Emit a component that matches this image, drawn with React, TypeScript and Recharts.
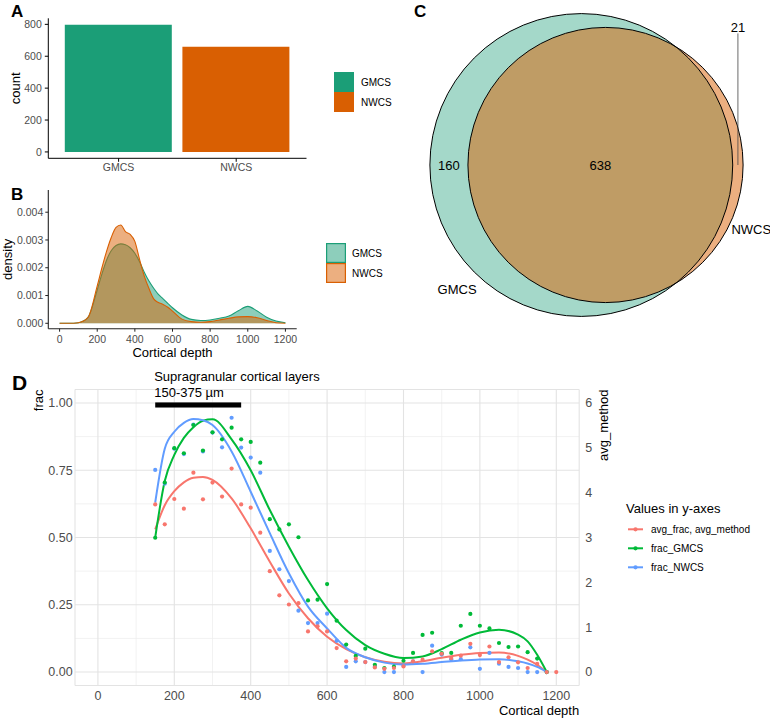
import React from "react";
import {
  BarChart,
  Bar,
  Cell,
  AreaChart,
  Area,
  ScatterChart,
  Scatter,
  ComposedChart,
  Line,
  XAxis,
  YAxis,
  ZAxis,
  CartesianGrid,
  ReferenceArea,
  Label,
} from "recharts";

const FONT = '"Liberation Sans", Arial, Helvetica, sans-serif';
const TICK_GREY = "#4d4d4d";

// ---------- Panel A: cells found by each method ----------
const methods = ["GMCS", "NWCS"];
const methodCounts = [798, 659];
const methodColors = ["#1B9E77", "#D95F02"];
const countTicks = [0, 200, 400, 600, 800];

// ---------- Panel B: density over cortical depth ----------
const densityDepths = [
  0, 50, 100, 150, 200, 225, 250, 275, 300, 325, 350, 375, 400, 425, 450, 475,
  500, 525, 550, 575, 600, 650, 700, 750, 800, 850, 900, 950, 1000, 1050, 1100,
  1150, 1200,
];
const densityGMCS = [
  0, 0, 0.00002, 0.0002, 0.0012, 0.00178, 0.00228, 0.00262, 0.0028, 0.00286,
  0.00283, 0.00272, 0.00252, 0.00222, 0.00184, 0.00152, 0.00126, 0.00104,
  0.00088, 0.00072, 0.00056, 0.0003, 0.00014, 0.0001, 0.00012, 0.00018,
  0.00026, 0.00045, 0.00061, 0.00044, 0.00022, 0.00008, 0.00002,
];
const densityNWCS = [
  0, 0, 0.00002, 0.0002, 0.00135, 0.002, 0.0026, 0.0031, 0.00345, 0.00354,
  0.0033, 0.0032, 0.00295, 0.0023, 0.0017, 0.00125, 0.00088, 0.00075, 0.00068,
  0.00058, 0.00044, 0.00015, 0.00006, 0.00004, 0.00006, 0.00012, 0.00018,
  0.00023, 0.00024, 0.0002, 0.0001, 0.00002, 0,
];
const depthTicks = [0, 200, 400, 600, 800, 1000, 1200];
const densityTicks = [0, 0.001, 0.002, 0.003, 0.004];

// ---------- Panel C: overlap of the two methods ----------
const onlyGMCS = 160;
const sharedCount = 638;
const onlyNWCS = 21;

// ---------- Panel D: fractions along cortical depth ----------
const depths = [
  150, 175, 200, 225, 250, 275, 300, 325, 350, 375, 400, 425, 450, 475, 500,
  525, 550, 575, 600, 625, 650, 675, 700, 725, 750, 775, 800, 825, 850, 875,
  900, 925, 950, 975, 1000, 1025, 1050, 1075, 1100, 1125, 1150, 1175, 1200,
];
const avgFrac = [
  0.623, 0.549, 0.643, 0.607, 0.741, 0.642, 0.704, 0.652, 0.756, 0.623, 0.611,
  0.518, 0.375, 0.285, 0.251, 0.256, 0.151, 0.17, 0.151, 0.089, 0.04, 0.05,
  0.037, 0.017, 0.012, 0.015, 0.021, 0.04, 0.046, 0.077, 0.068, 0.052, 0.061,
  0.105, 0.063, 0.095, 0.037, 0.055, 0.036, 0.015, 0.03, 0, 0,
];
const fracGMCS = [
  0.499, 0.704, 0.832, 0.813, 0.918, 0.823, 0.891, 0.865, 0.908, 0.865, 0.855,
  0.778, 0.568, 0.53, 0.549, 0.501, 0.266, 0.269, 0.327, 0.191, 0.102, 0.06,
  0.087, 0.027, 0.015, 0.02, 0.042, 0.071, 0.138, 0.146, 0.07, 0.071, 0.172,
  0.216, 0.172, 0.162, 0.108, 0.093, 0.095, 0.074, 0.05, 0, null,
];
const fracNWCS = [
  0.751, 0.7, 0.83, 0.81, 0.92, 0.82, 0.89, 0.835, 0.945, 0.834, 0.797, 0.741,
  0.45, 0.382, 0.338, 0.228, 0.182, 0.182, 0.217, 0.116, 0.019, 0.04, 0.037,
  0.02, 0, 0, 0.024, 0.04, 0, 0.098, 0.065, 0.048, 0.048, 0.092, 0.012, 0.071,
  0.031, 0.019, 0.015, 0, 0, 0, null,
];
const smoothDepths = [
  150, 175, 200, 225, 250, 275, 300, 350, 400, 450, 500, 550, 600, 650, 700,
  750, 800, 850, 900, 950, 1000, 1050, 1100, 1125, 1150, 1175,
];
const smoothAvg = [
  0.53, 0.62, 0.672, 0.705, 0.722, 0.725, 0.714, 0.645, 0.534, 0.41, 0.292,
  0.2, 0.131, 0.085, 0.055, 0.038, 0.032, 0.04, 0.053, 0.064, 0.071, 0.073,
  0.06, 0.046, 0.027, 0,
];
const smoothGMCS = [
  0.5, 0.71, 0.807, 0.87, 0.91, 0.934, 0.939, 0.865, 0.75, 0.602, 0.466, 0.342,
  0.237, 0.156, 0.1, 0.068, 0.052, 0.058, 0.085, 0.12, 0.147, 0.157, 0.139,
  0.114, 0.064, 0,
];
const smoothNWCS = [
  0.63, 0.83, 0.893, 0.926, 0.94, 0.936, 0.918, 0.82, 0.67, 0.516, 0.367,
  0.243, 0.162, 0.09, 0.055, 0.035, 0.028, 0.031, 0.037, 0.043, 0.047, 0.048,
  0.04, 0.032, 0.019, 0,
];
const fracTicks = [0, 0.25, 0.5, 0.75, 1];
const fracMinor = [0.125, 0.375, 0.625, 0.875];
const depthMinor = [100, 300, 500, 700, 900, 1100];
const methodTicks = [0, 1, 2, 3, 4, 5, 6];
const seriesKeys = ["avg", "gmcs", "nwcs"];
const seriesNames = ["avg_frac, avg_method", "frac_GMCS", "frac_NWCS"];
const seriesColors = ["#F8766D", "#00BA38", "#619CFF"];
const supraRange = [150, 375];
const supraTitle = "Supragranular cortical layers";
const supraSub = "150-375 µm";

const tickStyle = (size: number) => ({
  fill: TICK_GREY,
  fontSize: size,
  fontFamily: FONT,
});

// rotated axis title, anchored at the middle or at the top of the axis box
const rotatedTitle =
  (text: string, x: number, anchor: "middle" | "end") => (props: any) => {
    const vb = props.viewBox || { y: 0, height: 0 };
    const y = anchor === "middle" ? vb.y + vb.height / 2 : vb.y;
    return (
      <text
        x={x}
        y={y}
        transform={`rotate(-90 ${x} ${y})`}
        textAnchor={anchor}
        dominantBaseline="central"
        fontSize={13}
        fontFamily={FONT}
        fill="#000"
      >
        {text}
      </text>
    );
  };

// ---------- A ----------
const barRows = methods.map((m, i) => ({ method: m, count: methodCounts[i] }));

function CountBars() {
  return (
    <BarChart
      width={380}
      height={180}
      data={barRows}
      barSize={107}
      margin={{ top: 18.3, right: 73.5, bottom: 0, left: 0 }}
    >
      <XAxis
        dataKey="method"
        type="category"
        padding={{ left: 11.5, right: 11.5 }}
        height={21.7}
        axisLine={{ stroke: "#000", strokeWidth: 1 }}
        tickLine={{ stroke: "#000" }}
        tickSize={3.5}
        tickMargin={2.2}
        tick={tickStyle(10.5)}
      />
      <YAxis
        type="number"
        domain={[-39.9, 837.9]}
        ticks={countTicks}
        allowDataOverflow
        width={48.3}
        axisLine={{ stroke: "#000", strokeWidth: 1 }}
        tickLine={{ stroke: "#000" }}
        tickSize={3.5}
        tickMargin={3}
        tick={tickStyle(10.5)}
      >
        <Label content={rotatedTitle("count", 16, "middle")} />
      </YAxis>
      <Bar dataKey="count" isAnimationActive={false}>
        {barRows.map((r, i) => (
          <Cell key={r.method} fill={methodColors[i]} />
        ))}
      </Bar>
    </BarChart>
  );
}

// ---------- B ----------
const densityRows = densityDepths.map((d, i) => ({
  depth: d,
  GMCS: densityGMCS[i],
  NWCS: densityNWCS[i],
}));

function DepthDensity() {
  return (
    <AreaChart
      width={380}
      height={180}
      data={densityRows}
      margin={{ top: 10, right: 83.3, bottom: 0, left: 0 }}
    >
      <XAxis
        dataKey="depth"
        type="number"
        domain={[-60, 1260]}
        ticks={depthTicks}
        allowDataOverflow
        height={31.3}
        axisLine={{ stroke: "#222", strokeWidth: 1.1 }}
        tickLine={{ stroke: "#222" }}
        tickSize={3}
        tickMargin={3.5}
        tick={tickStyle(10.5)}
      >
        <Label
          content={(props: any) => {
            const vb = props.viewBox;
            return (
              <text
                x={vb.x + vb.width / 2}
                y={vb.y + 28.3}
                textAnchor="middle"
                fontSize={13}
                fontFamily={FONT}
                fill="#000"
              >
                Cortical depth
              </text>
            );
          }}
        />
      </XAxis>
      <YAxis
        type="number"
        domain={[-0.000195, 0.0048]}
        ticks={densityTicks}
        tickFormatter={(v: number) => v.toFixed(3)}
        allowDataOverflow
        width={48.3}
        axisLine={{ stroke: "#222", strokeWidth: 1.1 }}
        tickLine={{ stroke: "#222" }}
        tickSize={3}
        tickMargin={2}
        tick={tickStyle(10.5)}
      >
        <Label content={rotatedTitle("density", 8, "middle")} />
      </YAxis>
      {methods.map((m, i) => (
        <Area
          key={m}
          dataKey={m}
          type="monotone"
          baseValue={0}
          stroke={methodColors[i]}
          strokeWidth={1.1}
          fill={methodColors[i]}
          fillOpacity={0.5}
          isAnimationActive={false}
        />
      ))}
    </AreaChart>
  );
}

// ---------- C ----------
const VENN_W = 390;
const VENN_H = 340;
const PX = 9.5; // pixels per unit of sqrt(count)

function lensArea(ra: number, rb: number, d: number) {
  if (d >= ra + rb) return 0;
  if (d <= Math.abs(ra - rb)) return Math.PI * Math.min(ra, rb) ** 2;
  const a = ra * ra * Math.acos((d * d + ra * ra - rb * rb) / (2 * d * ra));
  const b = rb * rb * Math.acos((d * d + rb * rb - ra * ra) / (2 * d * rb));
  const c =
    0.5 *
    Math.sqrt((-d + ra + rb) * (d + ra - rb) * (d - ra + rb) * (d + ra + rb));
  return a + b - c;
}

function solveDistance(ra: number, rb: number, target: number) {
  let lo = Math.abs(ra - rb);
  let hi = ra + rb;
  for (let i = 0; i < 60; i++) {
    const mid = (lo + hi) / 2;
    if (lensArea(ra, rb, mid) > target) lo = mid;
    else hi = mid;
  }
  return (lo + hi) / 2;
}

const totalGMCS = onlyGMCS + sharedCount;
const totalNWCS = onlyNWCS + sharedCount;
const rG = Math.sqrt(totalGMCS / Math.PI);
const rN = Math.sqrt(totalNWCS / Math.PI);
const gap = solveDistance(rG, rN, sharedCount);
const cxG = 201.3 / PX;
const cyC = (VENN_H - 165) / PX;
const cxN = cxG + gap;

const vennCircles = [
  { set: "GMCS", x: cxG, y: cyC, count: totalGMCS },
  { set: "NWCS", x: cxN, y: cyC, count: totalNWCS },
];
const polar = (cx: number, r: number, deg: number) => ({
  x: cx + 1.16 * r * Math.cos((deg * Math.PI) / 180),
  y: cyC + 1.16 * r * Math.sin((deg * Math.PI) / 180),
});
const vennLabels = [
  { text: String(onlyGMCS), x: (cxG - rG + cxN - rN) / 2, y: cyC, leader: 0 },
  { text: String(sharedCount), x: (cxN - rN + cxG + rG) / 2, y: cyC, leader: 0 },
  { text: String(onlyNWCS), x: (cxG + rG + cxN + rN) / 2, y: cyC + rN, leader: rN },
  { text: "GMCS", ...polar(cxG, rG, 225), leader: 0 },
  { text: "NWCS", ...polar(cxN, rN, -24), leader: 0 },
];

const vennFill = (p: any) => {
  const i = methods.indexOf(p.payload.set);
  return (
    <circle
      cx={p.cx}
      cy={p.cy}
      r={p.width / 2}
      fill={methodColors[i]}
      fillOpacity={i === 0 ? 0.4 : 0.5}
    />
  );
};
const vennEdge = (p: any) => (
  <circle cx={p.cx} cy={p.cy} r={p.width / 2} fill="none" stroke="#000" strokeWidth={1} />
);
const vennText = (p: any) => {
  const t = p.payload;
  return (
    <g>
      {t.leader ? (
        <line
          x1={p.cx}
          x2={p.cx}
          y1={p.cy + 6}
          y2={p.cy + t.leader * PX}
          stroke="#444"
          strokeWidth={0.8}
        />
      ) : null}
      <text
        x={p.cx}
        y={p.cy}
        textAnchor="middle"
        dominantBaseline="central"
        fontSize={13}
        fontFamily={FONT}
        fill="#000"
      >
        {t.text}
      </text>
    </g>
  );
};

function OverlapVenn() {
  return (
    <ScatterChart
      width={VENN_W}
      height={VENN_H}
      margin={{ top: 0, right: 0, bottom: 0, left: 0 }}
    >
      <XAxis hide type="number" dataKey="x" domain={[0, VENN_W / PX]} allowDataOverflow />
      <YAxis hide type="number" dataKey="y" domain={[0, VENN_H / PX]} allowDataOverflow />
      <ZAxis
        type="number"
        dataKey="count"
        domain={[0, totalGMCS]}
        range={[0, totalGMCS * PX * PX]}
      />
      <ZAxis zAxisId="lbl" range={[1, 1]} />
      <Scatter data={vennCircles} shape={vennFill} isAnimationActive={false} />
      <Scatter data={vennCircles} shape={vennEdge} isAnimationActive={false} />
      <Scatter data={vennLabels} zAxisId="lbl" shape={vennText} isAnimationActive={false} />
    </ScatterChart>
  );
}

// ---------- D ----------
const pointRows = depths.map((d, i) => ({
  depth: d,
  avg: avgFrac[i],
  gmcs: fracGMCS[i],
  nwcs: fracNWCS[i],
}));
const smoothRows = smoothDepths.map((d, i) => ({
  depth: d,
  avg: smoothAvg[i],
  gmcs: smoothGMCS[i],
  nwcs: smoothNWCS[i],
}));
// draw order of the dots: blue, green, red on top
const pointOrder = [2, 1, 0];

const supraShape = (p: any) => (
  <g>
    <rect x={p.x} y={p.y} width={p.width} height={p.height} fill="#000" />
    <text x={p.x - 1} y={p.y - 21.5} fontSize={13} fontFamily={FONT} fill="#000">
      {supraTitle}
    </text>
    <text x={p.x - 1} y={p.y - 5.5} fontSize={13} fontFamily={FONT} fill="#000">
      {supraSub}
    </text>
  </g>
);

function DepthFractions() {
  return (
    <ComposedChart
      width={770}
      height={360}
      margin={{ top: 30.5, right: 150.8, bottom: 0, left: 0 }}
    >
      <CartesianGrid
        yAxisId="left"
        horizontalValues={fracMinor}
        verticalValues={depthMinor}
        stroke="#ececec"
        strokeWidth={0.7}
      />
      <CartesianGrid yAxisId="left" stroke="#e3e3e3" strokeWidth={1.1} />
      <XAxis
        dataKey="depth"
        type="number"
        domain={[-60, 1260]}
        ticks={depthTicks}
        allowDataOverflow
        height={33.5}
        axisLine={false}
        tickLine={false}
        tickSize={0}
        tickMargin={6}
        tick={tickStyle(12.5)}
      >
        <Label
          content={(props: any) => {
            const vb = props.viewBox;
            return (
              <text
                x={vb.x + vb.width}
                y={356}
                textAnchor="end"
                fontSize={13}
                fontFamily={FONT}
                fill="#000"
              >
                Cortical depth
              </text>
            );
          }}
        />
      </XAxis>
      <YAxis
        yAxisId="left"
        type="number"
        domain={[-0.05, 1.05]}
        ticks={fracTicks}
        tickFormatter={(v: number) => v.toFixed(2)}
        allowDataOverflow
        width={75}
        axisLine={false}
        tickLine={false}
        tickSize={0}
        tickMargin={2.3}
        tick={tickStyle(12.5)}
      >
        <Label content={rotatedTitle("frac", 38.3, "end")} />
      </YAxis>
      <YAxis
        yAxisId="right"
        orientation="right"
        type="number"
        domain={[-0.3, 6.3]}
        ticks={methodTicks}
        allowDataOverflow
        width={40}
        axisLine={false}
        tickLine={false}
        tickSize={0}
        tickMargin={6}
        tick={tickStyle(12.5)}
      >
        <Label content={rotatedTitle("avg_method", 603, "end")} />
      </YAxis>
      <ReferenceArea
        yAxisId="left"
        x1={supraRange[0]}
        x2={supraRange[1]}
        y1={0.983}
        y2={1.002}
        ifOverflow="visible"
        shape={supraShape}
      />
      {pointOrder.map((s) => (
        <Scatter
          key={`pts-${seriesKeys[s]}`}
          yAxisId="left"
          data={pointRows.filter((r: any) => r[seriesKeys[s]] != null)}
          dataKey={seriesKeys[s]}
          isAnimationActive={false}
          shape={(p: any) => (
            <circle cx={p.cx} cy={p.cy} r={2.1} fill={seriesColors[s]} />
          )}
        />
      ))}
      {seriesKeys.map((k, s) => (
        <Line
          key={`fit-${k}`}
          yAxisId="left"
          data={smoothRows}
          dataKey={k}
          type="monotone"
          stroke={seriesColors[s]}
          strokeWidth={2}
          dot={false}
          activeDot={false}
          isAnimationActive={false}
        />
      ))}
    </ComposedChart>
  );
}

// ---------- legends ----------
function BarLegend() {
  return (
    <div style={{ position: "absolute", left: 334, top: 72, fontFamily: FONT, fontSize: 10 }}>
      {methods.map((m, i) => (
        <div key={m} style={{ display: "flex", alignItems: "center", height: 20 }}>
          <div style={{ width: 20, height: 20, background: methodColors[i] }} />
          <span style={{ marginLeft: 7 }}>{m}</span>
        </div>
      ))}
    </div>
  );
}

function DensityLegend() {
  return (
    <div style={{ position: "absolute", left: 326, top: 243, fontFamily: FONT, fontSize: 10 }}>
      {methods.map((m, i) => (
        <div key={m} style={{ display: "flex", alignItems: "center", height: 20 }}>
          <svg width={20} height={20}>
            <rect
              x={0.6}
              y={0.6}
              width={18.8}
              height={18.8}
              fill={methodColors[i]}
              fillOpacity={0.5}
              stroke={methodColors[i]}
              strokeWidth={1.2}
            />
          </svg>
          <span style={{ marginLeft: 6 }}>{m}</span>
        </div>
      ))}
    </div>
  );
}

function SeriesLegend() {
  return (
    <svg
      style={{ position: "absolute", left: 620, top: 495 }}
      width={150}
      height={85}
      fontFamily={FONT}
    >
      <text x={6} y={17.5} fontSize={13} fill="#000">
        Values in y-axes
      </text>
      {seriesNames.map((n, i) => {
        const y = 34.3 + i * 19;
        return (
          <g key={n}>
            <line x1={8} x2={23} y1={y} y2={y} stroke={seriesColors[i]} strokeWidth={2} />
            <circle cx={15.5} cy={y} r={2.1} fill={seriesColors[i]} />
            <text x={31} y={y + 3.5} fontSize={10} fill="#000">
              {n}
            </text>
          </g>
        );
      })}
    </svg>
  );
}

function PanelTags() {
  const tag = { fontFamily: FONT, fontWeight: 700, fill: "#000" } as const;
  return (
    <svg
      style={{ position: "absolute", left: 0, top: 0, pointerEvents: "none" }}
      width={770}
      height={719}
    >
      <text x={11} y={17} fontSize={17} {...tag}>A</text>
      <text x={11} y={200} fontSize={17} {...tag}>B</text>
      <text x={414} y={17} fontSize={17} {...tag}>C</text>
      <text x={12} y={390} fontSize={21} {...tag}>D</text>
    </svg>
  );
}

export default function App() {
  return (
    <div
      style={{
        position: "absolute",
        left: 0,
        top: 0,
        width: 770,
        height: 719,
        background: "#fff",
        overflow: "hidden",
        fontFamily: FONT,
      }}
    >
      <div style={{ position: "absolute", left: 0, top: 0 }}>
        <CountBars />
      </div>
      <div style={{ position: "absolute", left: 0, top: 180 }}>
        <DepthDensity />
      </div>
      <div style={{ position: "absolute", left: 380, top: 0 }}>
        <OverlapVenn />
      </div>
      <div style={{ position: "absolute", left: 0, top: 359 }}>
        <DepthFractions />
      </div>
      <BarLegend />
      <DensityLegend />
      <SeriesLegend />
      <PanelTags />
    </div>
  );
}
